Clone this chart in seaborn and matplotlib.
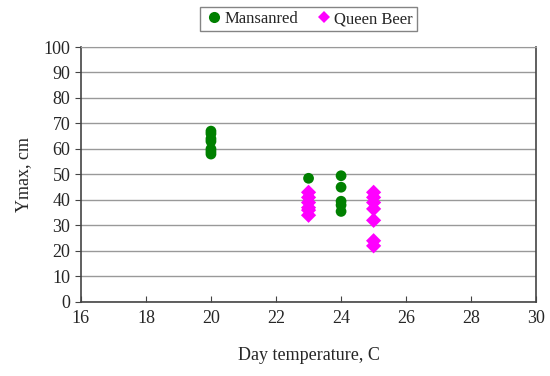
import matplotlib
import pandas as pd
import seaborn as sns
import matplotlib.pyplot as plt
matplotlib.use('Agg')

sns.set_style('white')
plt.rcParams['font.family'] = ['Liberation Serif', 'DejaVu Serif']

# valores
mansanred_x = [20, 20, 20, 20, 20, 20, 20, 23, 23, 24, 24, 24, 24, 24]
mansanred_y = [67, 66, 64, 63, 60, 59, 58, 48.5, 41, 49.5, 45, 39.5, 38, 35.5]
queen_x = [23, 23, 23, 23, 23, 23, 25, 25, 25, 25, 25, 25, 25]
queen_y = [43, 41, 39, 37, 36, 34, 43, 41, 39, 36.5, 32, 24, 22]

df = pd.DataFrame({
    'temp': mansanred_x + queen_x,
    'ymax': mansanred_y + queen_y,
    'cultivar': ['Mansanred'] * len(mansanred_x) + ['Queen Beer'] * len(queen_x),
})

fig = plt.figure(figsize=(5.5, 3.76), dpi=100)
ax = fig.add_axes([0.147, 0.197, 0.828, 0.678])

sns.scatterplot(data=df, x='temp', y='ymax', hue='cultivar', style='cultivar',
                markers={'Mansanred': 'o', 'Queen Beer': 'D'},
                palette={'Mansanred': '#008000', 'Queen Beer': '#FF00FF'},
                s=60, edgecolor=None, linewidth=0, ax=ax, zorder=3)

ax.set_xlim(16, 30)
ax.set_ylim(0, 100)
ax.set_xticks(range(16, 31, 2))
ax.set_yticks(range(0, 101, 10))
ax.yaxis.grid(True, color='#999999', linewidth=1)
ax.set_axisbelow(True)
for side in ['left', 'bottom', 'right']:
    ax.spines[side].set_color('#444444')
    ax.spines[side].set_linewidth(1.2)
ax.spines['top'].set_color('#999999')
ax.tick_params(axis='x', direction='in', length=4, labelsize=13, color='#444444', pad=6)
ax.tick_params(axis='y', direction='out', length=4, labelsize=13, color='#444444', left=True)
ax.tick_params(axis='x', bottom=True)
ax.set_xlabel('Day temperature, C', fontsize=13, labelpad=14)
ax.set_ylabel('Ymax, cm', fontsize=13, labelpad=8)

handles, labels = ax.get_legend_handles_labels()
handles[0].set_markersize(8)
handles[1].set_markersize(6.5)
ax.legend(handles, labels, loc='upper center', bbox_to_anchor=(0.5, 1.19), ncol=2,
          frameon=True, fancybox=False, edgecolor='#666666', fontsize=12,
          handletextpad=0.0, columnspacing=1.0, borderpad=0.25, handlelength=1.2)

fig.savefig('out.png', dpi=100)
plt.close()
